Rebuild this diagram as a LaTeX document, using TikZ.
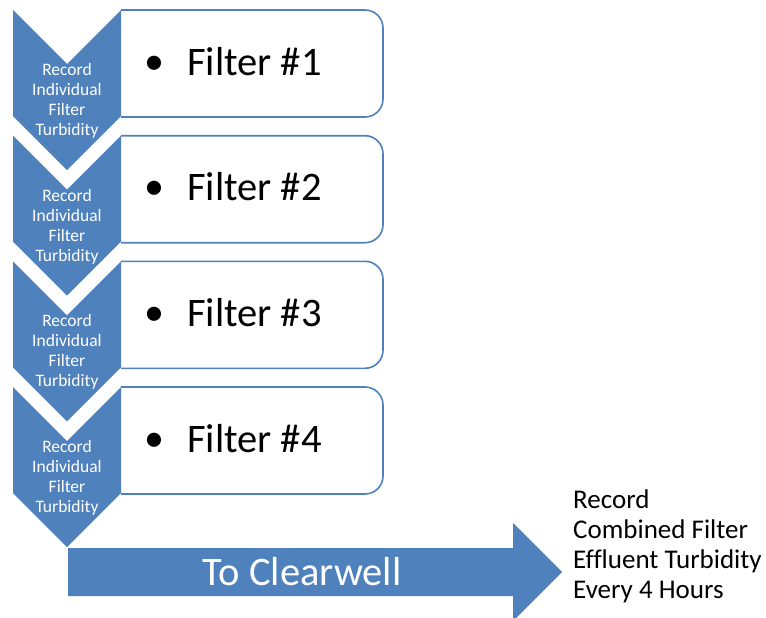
\documentclass[tikz,border=0pt]{standalone}
\usepackage{fontspec}
\setmainfont{Carlito}[Ligatures=CommonOff]
\definecolor{ofblue}{RGB}{79,129,189}
\begin{document}
\begin{tikzpicture}[x=1pt,y=-1pt,
  chev/.style={fill=ofblue,draw=none},
  fbox/.style={draw=ofblue,line width=1.6pt,fill=white,rounded corners=18pt},
  chevtext/.style={text=white,align=center,inner sep=0pt,font=\fontsize{17.5}{20}\selectfont},
  filtertext/.style={anchor=base west,inner sep=0pt,font=\fontsize{40.5}{48}\selectfont},
  bulletmark/.style={inner sep=0pt,font=\fontsize{40}{48}\selectfont},
  arrowtext/.style={text=white,inner sep=0pt,font=\fontsize{40.5}{46}\selectfont},
  sidetext/.style={align=left,anchor=north west,inner sep=0pt,font=\fontsize{27}{30}\selectfont}]
\useasboundingbox (0,0) rectangle (766,618);
\foreach \i/\t in {1/10,2/135.7,3/261.3,4/387} {
  \draw[fbox] (121,\t) -- (383,\t) -- (383,\t+107) -- (121,\t+107);
  \fill[chev] (13,\t) -- (67,\t+54) -- (121,\t) -- (121,\t+106) -- (67,\t+160) -- (13,\t+106) -- cycle;
  \node[chevtext] (c\i) at (67,\t+91) {Record\\Individual\\Filter\\Turbidity};
  \node[bulletmark] (b\i) at (154,\t+55) {\textbullet};
  \node[filtertext] (f\i) at (187,\t+65) {Filter \#\i};
}
\fill[chev] (68,548) -- (513,548) -- (513,523) -- (562,572) -- (513,621) -- (513,596) -- (68,596) -- cycle;
\node[arrowtext] (cw) at (302,572) {To Clearwell};
\node[sidetext] (side) at (573,490) {Record\\Combined Filter\\Effluent Turbidity\\Every 4 Hours};
\end{tikzpicture}
\end{document}
